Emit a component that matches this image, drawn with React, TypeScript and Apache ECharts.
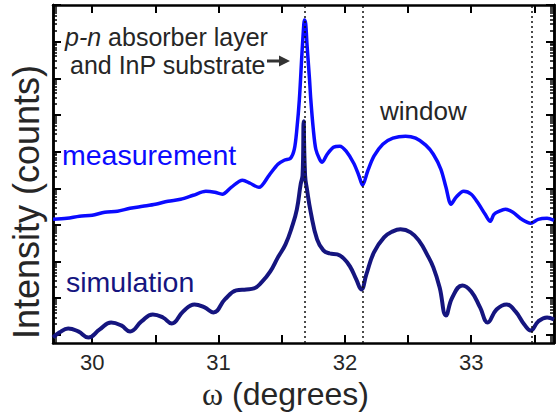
import React, { useEffect, useRef } from "react";
import * as echarts from "echarts";

// omega (degrees)
const measX = [29.69, 29.8, 29.9, 30.0, 30.1, 30.2, 30.3, 30.4, 30.5, 30.6, 30.7, 30.8, 30.9, 30.97, 31.03, 31.1, 31.19, 31.25, 31.32, 31.4, 31.47, 31.52, 31.57, 31.6, 31.62, 31.64, 31.66, 31.675, 31.68, 31.69, 31.7, 31.72, 31.73, 31.75, 31.77, 31.8, 31.82, 31.86, 31.91, 31.96, 32.01, 32.07, 32.11, 32.14, 32.18, 32.23, 32.3, 32.38, 32.48, 32.56, 32.64, 32.7, 32.76, 32.8, 32.84, 32.88, 32.94, 33.0, 33.06, 33.11, 33.15, 33.18, 33.22, 33.27, 33.33, 33.4, 33.47, 33.53, 33.6, 33.655];
const measY = [1.42e4, 1.51e4, 1.72e4, 1.83e4, 2.21e4, 2.35e4, 2.84e4, 3.22e4, 3.66e4, 4.42e4, 5.0e4, 6.44e4, 8.28e4, 7.78e4, 6.86e4, 1.06e5, 1.66e5, 1.37e5, 1.06e5, 2.26e5, 4.53e5, 5.82e5, 6.61e5, 1.16e6, 4.09e6, 2.7e7, 4.58e8, 3.03e9, 3.89e9, 3.03e9, 8.6e8, 9.51e7, 2.7e7, 4.09e6, 1.16e6, 6.2e5, 5.13e5, 8.49e5, 1.32e6, 1.41e6, 1.03e6, 4.82e5, 2.26e5, 1.21e5, 2.91e5, 7.48e5, 1.59e6, 2.32e6, 2.64e6, 2.32e6, 1.5e6, 8.49e5, 3.3e5, 1.06e5, 3.66e4, 5.68e4, 8.28e4, 6.86e4, 3.66e4, 1.95e4, 1.25e4, 1.95e4, 2.35e4, 2.67e4, 2.21e4, 1.42e4, 1.11e4, 1.42e4, 1.51e4, 1.34e4];

const simX = [29.69, 29.74, 29.81, 29.89, 29.97, 30.06, 30.15, 30.23, 30.3, 30.39, 30.48, 30.56, 30.63, 30.72, 30.81, 30.89, 30.96, 31.05, 31.14, 31.22, 31.28, 31.34, 31.41, 31.47, 31.53, 31.58, 31.62, 31.65, 31.665, 31.675, 31.68, 31.685, 31.7, 31.73, 31.78, 31.83, 31.88, 31.94, 31.99, 32.04, 32.09, 32.13, 32.17, 32.23, 32.31, 32.38, 32.44, 32.52, 32.59, 32.65, 32.7, 32.75, 32.8, 32.85, 32.93, 33.0, 33.07, 33.13, 33.2, 33.28, 33.35, 33.42, 33.47, 33.53, 33.6, 33.655];
const simY = [8.49, 11.6, 15.0, 12.4, 8.49, 14.1, 21.8, 18.1, 12.4, 23.2, 36.1, 29.9, 20.5, 43.6, 67.8, 56.1, 40.9, 92.7, 163, 174, 185, 270, 540, 1300, 2950, 8590, 2.67e4, 1.29e5, 2.26e5, 6.78e6, 6.78e6, 2.26e5, 9.4e4, 2.21e4, 4050, 2020, 1670, 1570, 1220, 740, 327, 174, 447, 1780, 4580, 6680, 7590, 6280, 3560, 1570, 695, 197, 33.9, 105, 224, 153, 56.1, 21.8, 49.4, 67.8, 43.6, 19.2, 13.2, 23.2, 29.9, 26.4];

const markerLines = [31.68, 32.14, 33.48];
const xLabelValues = [30, 31, 32, 33];
const xTickValues = [30, 30.5, 31, 31.5, 32, 32.5, 33, 33.5];
const yDecades = [10, 1e2, 1e3, 1e4, 1e5, 1e6, 1e7, 1e8, 1e9, 1e10];
const X_MIN = 29.69;
const X_MAX = 33.655;
const Y_MIN = 6;
const Y_MAX = 1e10;

const FONT = "'Liberation Sans', Arial, Helvetica, sans-serif";
const BLUE = "#0b0bff";
const NAVY = "#15157f";
const TEXT = "#262626";

export default function App() {
  const ref = useRef<HTMLDivElement>(null);
  useEffect(() => {
    if (!ref.current) return;
    const chart = echarts.init(ref.current, undefined, { renderer: "svg" });
    const yMinor: number[] = [];
    for (let e = 0; e < 10; e++) {
      for (let k = 2; k <= 9; k++) {
        const v = k * Math.pow(10, e);
        if (v >= Y_MIN && v <= Y_MAX) yMinor.push(v);
      }
    }
    const axisLine = { show: true, lineStyle: { color: "#000", width: 2.5 } };
    const baseX = {
      type: "value",
      min: X_MIN,
      max: X_MAX,
      splitLine: { show: false },
      axisLine,
    };
    const baseY = {
      type: "log",
      logBase: 10,
      min: Y_MIN,
      max: Y_MAX,
      splitLine: { show: false },
      axisLabel: { show: false },
      axisLine,
    };
    chart.setOption({
      animation: false,
      backgroundColor: "#fff",
      grid: { left: 51, right: 3, top: 5, bottom: 74, containLabel: false },
      xAxis: [
        {
          ...baseX,
          position: "bottom",
          axisTick: { show: true, inside: true, length: 8, customValues: xTickValues, lineStyle: { color: "#000", width: 2 } },
          axisLabel: { show: true, customValues: xLabelValues, fontSize: 22, color: TEXT, fontFamily: FONT, margin: 8 },
          name: "{w|ω} (degrees)",
          nameLocation: "middle",
          nameGap: 29,
          nameTextStyle: {
            fontSize: 32,
            color: TEXT,
            fontFamily: FONT,
            padding: [0, 36, 0, 0],
            rich: { w: { fontSize: 32, fontFamily: "'Liberation Serif', 'Times New Roman', serif", color: TEXT } },
          },
        },
        {
          ...baseX,
          position: "top",
          axisTick: { show: true, inside: true, length: 8, customValues: xTickValues, lineStyle: { color: "#000", width: 2 } },
          axisLabel: { show: false },
        },
      ],
      yAxis: [
        {
          ...baseY,
          position: "left",
          axisTick: { show: true, inside: true, length: 8, customValues: yDecades, lineStyle: { color: "#000", width: 2 } },
          name: "Intensity (counts)",
          nameLocation: "middle",
          nameGap: 9,
          nameTextStyle: { fontSize: 36, color: TEXT, fontFamily: FONT, padding: [0, 56, 0, 0] },
        },
        {
          ...baseY,
          position: "left",
          axisTick: { show: true, inside: true, length: 4, customValues: yMinor, lineStyle: { color: "#000", width: 1.5 } },
        },
        {
          ...baseY,
          position: "right",
          axisTick: { show: true, inside: true, length: 8, customValues: yDecades, lineStyle: { color: "#000", width: 2 } },
        },
        {
          ...baseY,
          position: "right",
          axisTick: { show: true, inside: true, length: 4, customValues: yMinor, lineStyle: { color: "#000", width: 1.5 } },
        },
      ],
      series: [
        {
          name: "simulation",
          type: "line",
          xAxisIndex: 0,
          yAxisIndex: 0,
          data: simX.map((x, i) => [x, simY[i]]),
          showSymbol: false,
          smooth: 0.45,
          lineStyle: { color: NAVY, width: 4 },
          z: 3,
        },
        {
          name: "measurement",
          type: "line",
          xAxisIndex: 0,
          yAxisIndex: 0,
          data: measX.map((x, i) => [x, measY[i]]),
          showSymbol: false,
          smooth: 0.3,
          lineStyle: { color: BLUE, width: 3.5 },
          z: 4,
          markLine: {
            silent: true,
            symbol: ["none", "none"],
            label: { show: false },
            lineStyle: { color: "#111", width: 1.5, type: [2, 3] },
            data: markerLines.map((v) => ({ xAxis: v })),
          },
        },
      ],
      graphic: [
        {
          type: "text",
          x: 65,
          y: 37,
          style: {
            text: "{i|p-n} absorber layer",
            fontSize: 25,
            fontFamily: FONT,
            fill: TEXT,
            verticalAlign: "middle",
            rich: { i: { fontStyle: "italic", fontSize: 25, fontFamily: FONT, fill: TEXT } },
          },
        },
        {
          type: "text",
          x: 70,
          y: 65,
          style: { text: "and InP substrate", fontSize: 25, fontFamily: FONT, fill: TEXT, verticalAlign: "middle" },
        },
        {
          type: "line",
          shape: { x1: 267, y1: 61, x2: 282, y2: 61 },
          style: { stroke: "#333", lineWidth: 3 },
        },
        {
          type: "polygon",
          shape: { points: [[279, 55.5], [290, 61], [279, 66.5]] },
          style: { fill: "#333" },
        },
        {
          type: "text",
          x: 380,
          y: 111,
          style: { text: "window", fontSize: 26, fontFamily: FONT, fill: TEXT, verticalAlign: "middle" },
        },
        {
          type: "text",
          x: 62,
          y: 155,
          style: { text: "measurement", fontSize: 28.5, fontFamily: FONT, fill: BLUE, verticalAlign: "middle" },
        },
        {
          type: "text",
          x: 66,
          y: 282,
          style: { text: "simulation", fontSize: 28.5, fontFamily: FONT, fill: NAVY, verticalAlign: "middle" },
        },
      ],
    });
    return () => chart.dispose();
  }, []);
  return <div ref={ref} style={{ position: "absolute", left: 0, top: 0, width: 557, height: 417 }} />;
}
